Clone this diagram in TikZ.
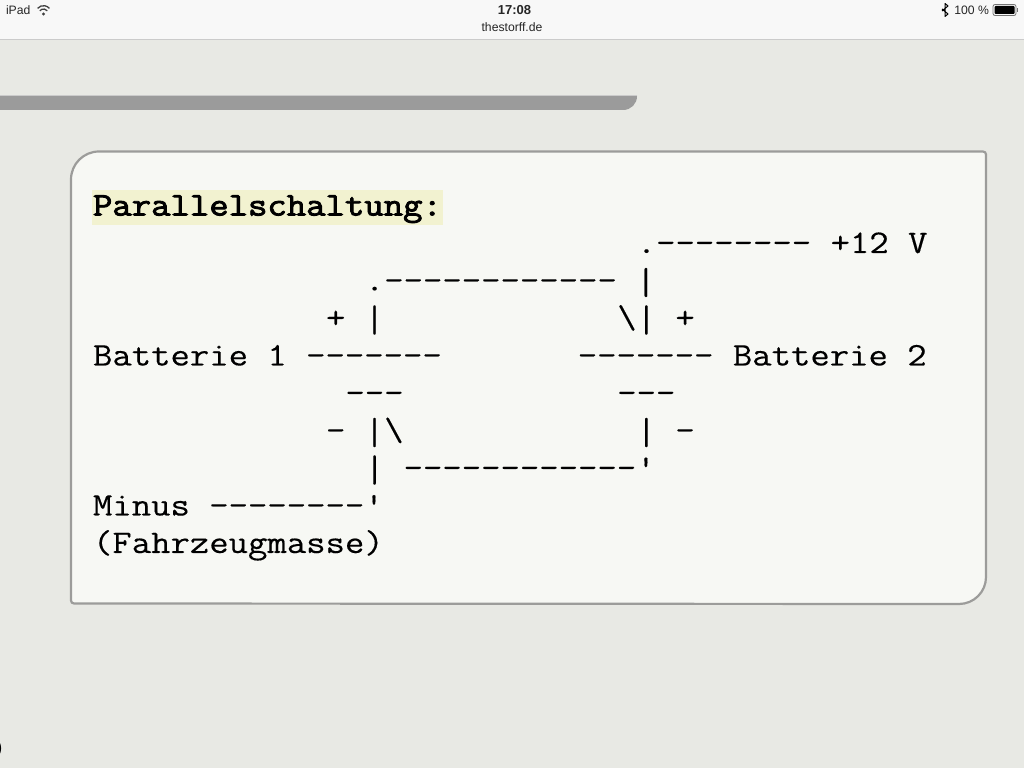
\documentclass[tikz,border=0pt]{standalone}
\usepackage{fontspec}
\setmainfont{Liberation Sans}
\newfontfamily\asciifont[Ligatures=NoCommon,FakeStretch=1.1405,FakeBold=0.3]{Latin Modern Mono}
\newfontfamily\asciibold[Ligatures=NoCommon,FakeStretch=1.1405,FakeBold=2.6]{Latin Modern Mono}
\newcommand{\tallbar}{\raisebox{-3.5pt}{\scalebox{1}[1.14]{|}}}
\definecolor{pagebg}{HTML}{E8E9E4}
\definecolor{cardbg}{HTML}{F7F8F4}
\definecolor{cardln}{HTML}{9C9C9A}
\definecolor{barbg}{HTML}{F8F8F8}
\definecolor{barln}{HTML}{CBCBCB}
\definecolor{graybar}{HTML}{9B9B9B}
\definecolor{hilite}{HTML}{F2F2D0}
\tikzset{
  x=1pt,y=1pt,
  ascii/.style={anchor=base west,inner sep=0pt,outer sep=0pt,font=\fontsize{33}{37}\selectfont\asciifont,text=black},
  asciib/.style={ascii,font=\fontsize{33}{37}\selectfont\asciibold},
  status/.style={inner sep=0pt,outer sep=0pt,font=\fontsize{12.2}{14}\selectfont,text=black!85},
}
\begin{document}
\begin{tikzpicture}
\useasboundingbox (0,0) rectangle (1024,768);
\fill[pagebg] (0,0) rectangle (1024,768);
% status bar
\fill[barbg] (0,729) rectangle (1024,768);
\fill[barln] (0,728) rectangle (1024,729.3);
\node[status,anchor=base west] (ipad) at (6,753.5) {iPad};
\node[status,anchor=base,font=\fontsize{13}{14}\selectfont\bfseries] (clock) at (514.5,753.5) {17:08};
\node[status,anchor=base] (site) at (512,736.5) {thestorff.de};
\node[status,anchor=base east] (pct) at (989,753.5) {100 \%};
% wifi
\begin{scope}[black!75,line width=1.3pt]
\fill (43.5,754) circle (1.7);
\draw (39.8,757.2) arc[start angle=140,end angle=40,radius=4.9];
\draw (37.6,759.6) arc[start angle=140,end angle=40,radius=7.7];
\end{scope}
% bluetooth
\draw[black,line width=1pt,line join=round] (942,757) -- (948,762) -- (945,764.5) -- (945,751.5) -- (948,754) -- (942,759);
% battery
\draw[black!55,line width=.8pt,rounded corners=2pt] (993,752.5) rectangle (1016,763.5);
\fill[black,rounded corners=1pt] (994.5,754) rectangle (1014.5,762);
\fill[black!55] (1016.8,756) rectangle (1018,760);
% gray bar
\fill[graybar] (0,672) -- (637,672) .. controls (637,664) and (631,658) .. (623,658) -- (0,658) -- cycle;
\fill[barln] (0,671.5) rectangle (637,672.5);
% card
\draw[cardln,fill=cardbg,line width=2.2pt]
  (98,616.5) -- (983,616.5) arc[start angle=90,end angle=0,radius=3]
  -- (986,191) arc[start angle=0,end angle=-90,radius=27]
  -- (74,164.5) arc[start angle=-90,end angle=-180,radius=3]
  -- (71,588.5) arc[start angle=180,end angle=90,radius=28] -- cycle;
% heading
\fill[hilite] (92,543) rectangle (443,578);
\node[asciib] (title) at (93,552.5) {Parallelschaltung:};
% ASCII circuit
\node[ascii] (l1) at (93,515) {\hspace{28\dimexpr 19.422pt}.-{}-{}-{}-{}-{}-{}-{}-~+12~V};
\node[ascii] (l2) at (93,477.5) {\hspace{14\dimexpr 19.422pt}.-{}-{}-{}-{}-{}-{}-{}-{}-{}-{}-{}-~\tallbar};
\node[ascii] (l3) at (93,440) {\hspace{12\dimexpr 19.422pt}+~\tallbar\hspace{12\dimexpr 19.422pt}\textbackslash\tallbar~+};
\node[ascii] (l4) at (93,402.5) {Batterie~1~-{}-{}-{}-{}-{}-{}-\hspace{7\dimexpr 19.422pt}-{}-{}-{}-{}-{}-{}-~Batterie~2};
\node[ascii] (l5) at (93,365) {\hspace{13\dimexpr 19.422pt}-{}-{}-\hspace{11\dimexpr 19.422pt}-{}-{}-};
\node[ascii] (l6) at (93,327.5) {\hspace{12\dimexpr 19.422pt}-~\tallbar\textbackslash\hspace{12\dimexpr 19.422pt}\tallbar~-};
\node[ascii] (l7) at (93,290) {\hspace{14\dimexpr 19.422pt}\tallbar~-{}-{}-{}-{}-{}-{}-{}-{}-{}-{}-{}-'};
\node[ascii] (l8) at (93,252.5) {Minus~-{}-{}-{}-{}-{}-{}-{}-'};
\node[ascii] (l9) at (93,215) {(Fahrzeugmasse)};
% clipped glyph at the lower left edge
\node[anchor=base east,inner sep=0pt,font=\fontsize{18}{20}\selectfont] (cut) at (2.5,15) {)};
\end{tikzpicture}
\end{document}
